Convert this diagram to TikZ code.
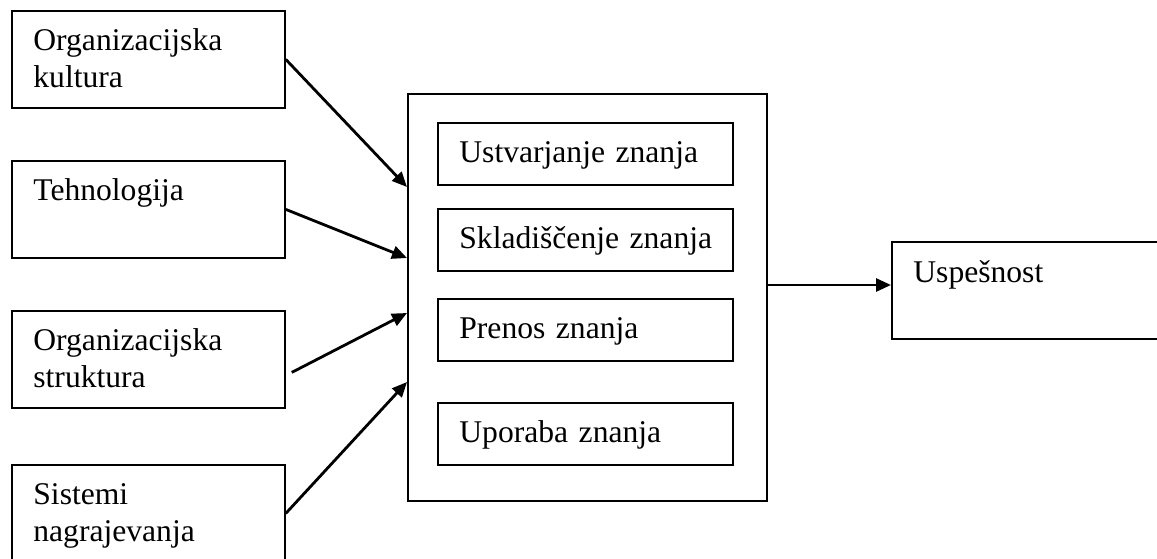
\documentclass[tikz,border=0pt]{standalone}
\usepackage{fontspec}
\setmainfont{Liberation Serif}
\usetikzlibrary{arrows.meta, positioning}

\begin{document}
\begin{tikzpicture}[
    x=0.5pt, y=-0.5pt,
    block/.style={rectangle, draw, line width=0.9pt, anchor=north west, align=left, inner xsep=10.75pt, inner ysep=0pt, text height=20pt, font=\fontsize{15.8pt}{18.5pt}\selectfont},
    factor/.style={block, text width=115pt, text depth=28.5pt},
    phase/.style={block, text width=126pt, text depth=11pt},
    line/.style={draw, line width=1.4pt, -{Triangle[length=7.5pt, width=6.5pt]}}
]
    \clip (0,0) rectangle (1157,558);

    \node [factor] (culture) at (11,10) {Organizacijska\\kultura};
    \node [factor] (tech) at (11,160) {Tehnologija};
    \node [factor] (structure) at (11,310) {Organizacijska\\struktura};
    \node [factor] (rewards) at (11,464) {Sistemi\\nagrajevanja};

    \node [draw, line width=0.9pt, anchor=north west, minimum width=179.5pt, minimum height=203.5pt] (km) at (407,93) {};
    \node [phase] (create) at (437,122) {Ustvarjanje znanja};
    \node [phase] (store) at (437,208) {\mbox{Skladiščenje znanja}};
    \node [phase] (transfer) at (437,298) {Prenos znanja};
    \node [phase] (use) at (437,402) {Uporaba znanja};

    \node [block, text width=125pt, text height=20.5pt, text depth=28pt] (success) at (891,241) {Uspešnost};

    \path [line] (culture.east) -- (km.west |- 0,187);
    \path [line] (tech.east) -- (km.west |- 0,258);
    \path [line] ([xshift=3pt, yshift=-6.5pt]structure.east) -- (km.west |- 0,313);
    \path [line] (rewards.east) -- (km.west |- 0,382);
    \path [line] (km.east |- 0,285) -- (success.west |- 0,285);
\end{tikzpicture}
\end{document}
